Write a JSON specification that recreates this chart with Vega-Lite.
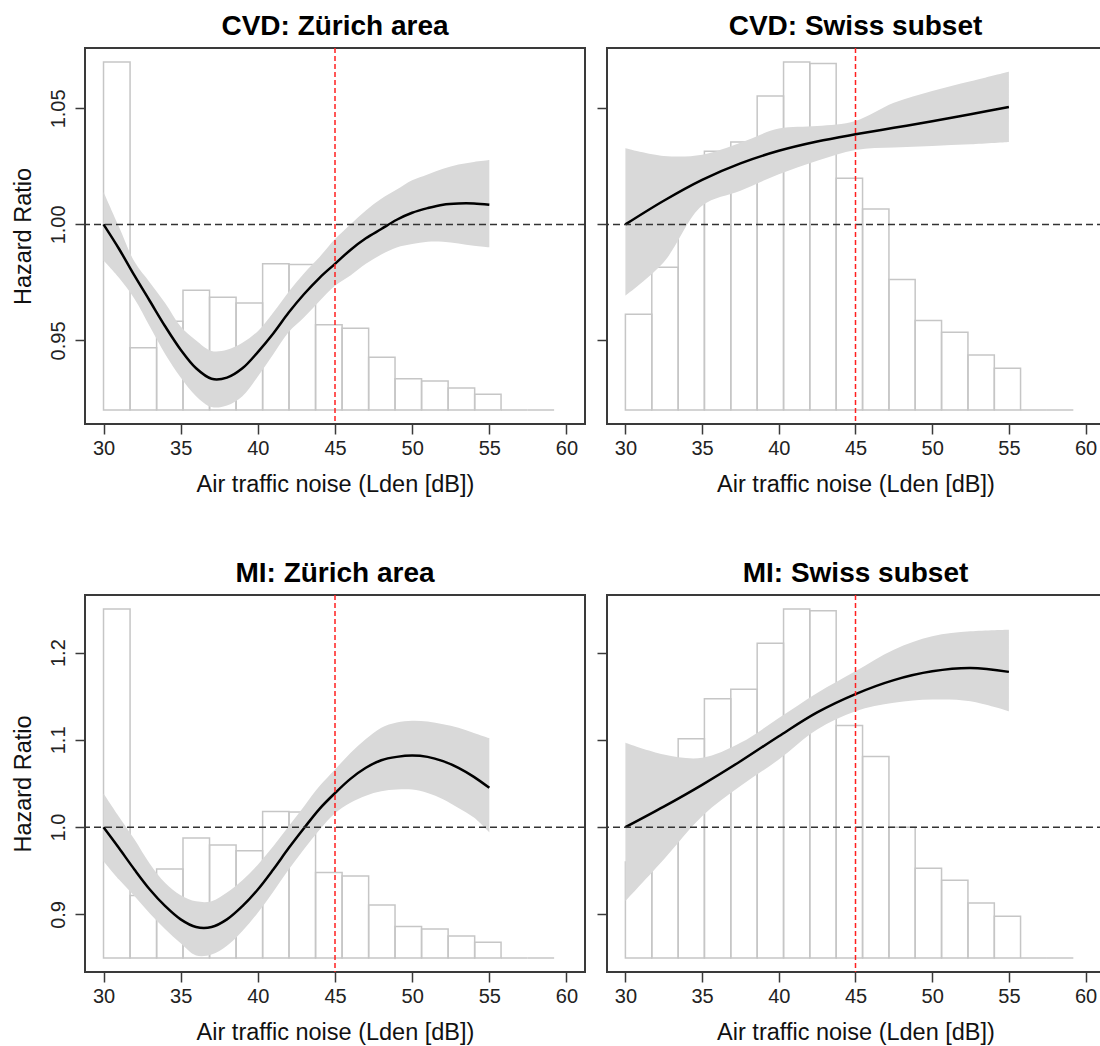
{
  "$schema": "https://vega.github.io/schema/vega-lite/v6.json",
  "padding": {"left": 10, "top": 12, "right": 0, "bottom": 0},
  "background": "white",
  "spacing": 62,
  "config": {
    "font": "Liberation Sans",
    "view": {"stroke": "#3a3a3a", "strokeWidth": 2},
    "axis": {"grid": false, "domain": false, "tickColor": "#3a3a3a", "tickWidth": 1.5, "tickSize": 10, "labelFont": "Liberation Sans", "labelFontSize": 20, "labelColor": "#222", "titleFont": "Liberation Sans", "titleFontSize": 23.5, "titleFontWeight": "normal", "titleColor": "#111", "labelOverlap": false},
    "axisX": {"labelPadding": 4, "titlePadding": 14, "labelFlush": false},
    "axisY": {"labelAngle": 270, "labelAlign": "center", "labelBaseline": "bottom", "labelPadding": 7, "titlePadding": 13},
    "title": {"fontSize": 28, "fontWeight": "bold", "font": "Liberation Sans", "offset": 6, "color": "#000", "anchor": "middle"}
  },
  "datasets": {
    "hist": [
      {"panel": "tl", "from": 30, "to": 31.72, "top": 1.07, "base": 0.92},
      {"panel": "tl", "from": 31.72, "to": 33.44, "top": 0.9469, "base": 0.92},
      {"panel": "tl", "from": 33.44, "to": 35.15, "top": 0.9583, "base": 0.92},
      {"panel": "tl", "from": 35.15, "to": 36.87, "top": 0.9716, "base": 0.92},
      {"panel": "tl", "from": 36.87, "to": 38.59, "top": 0.9686, "base": 0.92},
      {"panel": "tl", "from": 38.59, "to": 40.31, "top": 0.9661, "base": 0.92},
      {"panel": "tl", "from": 40.31, "to": 42.02, "top": 0.983, "base": 0.92},
      {"panel": "tl", "from": 42.02, "to": 43.74, "top": 0.9827, "base": 0.92},
      {"panel": "tl", "from": 43.74, "to": 45.46, "top": 0.9568, "base": 0.92},
      {"panel": "tl", "from": 45.46, "to": 47.18, "top": 0.9553, "base": 0.92},
      {"panel": "tl", "from": 47.18, "to": 48.89, "top": 0.9428, "base": 0.92},
      {"panel": "tl", "from": 48.89, "to": 50.61, "top": 0.9335, "base": 0.92},
      {"panel": "tl", "from": 50.61, "to": 52.33, "top": 0.9325, "base": 0.92},
      {"panel": "tl", "from": 52.33, "to": 54.05, "top": 0.9295, "base": 0.92},
      {"panel": "tl", "from": 54.05, "to": 55.76, "top": 0.9268, "base": 0.92},
      {"panel": "tl", "from": 55.76, "to": 57.48, "top": 0.92, "base": 0.92},
      {"panel": "tl", "from": 57.48, "to": 59.2, "top": 0.92, "base": 0.92},
      {"panel": "tr", "from": 30, "to": 31.72, "top": 0.9613, "base": 0.92},
      {"panel": "tr", "from": 31.72, "to": 33.44, "top": 0.9815, "base": 0.92},
      {"panel": "tr", "from": 33.44, "to": 35.15, "top": 1.0142, "base": 0.92},
      {"panel": "tr", "from": 35.15, "to": 36.87, "top": 1.0315, "base": 0.92},
      {"panel": "tr", "from": 36.87, "to": 38.59, "top": 1.0355, "base": 0.92},
      {"panel": "tr", "from": 38.59, "to": 40.31, "top": 1.0553, "base": 0.92},
      {"panel": "tr", "from": 40.31, "to": 42.02, "top": 1.07, "base": 0.92},
      {"panel": "tr", "from": 42.02, "to": 43.74, "top": 1.0693, "base": 0.92},
      {"panel": "tr", "from": 43.74, "to": 45.46, "top": 1.0199, "base": 0.92},
      {"panel": "tr", "from": 45.46, "to": 47.18, "top": 1.0066, "base": 0.92},
      {"panel": "tr", "from": 47.18, "to": 48.89, "top": 0.9763, "base": 0.92},
      {"panel": "tr", "from": 48.89, "to": 50.61, "top": 0.9586, "base": 0.92},
      {"panel": "tr", "from": 50.61, "to": 52.33, "top": 0.9535, "base": 0.92},
      {"panel": "tr", "from": 52.33, "to": 54.05, "top": 0.9437, "base": 0.92},
      {"panel": "tr", "from": 54.05, "to": 55.76, "top": 0.938, "base": 0.92},
      {"panel": "tr", "from": 55.76, "to": 57.48, "top": 0.92, "base": 0.92},
      {"panel": "tr", "from": 57.48, "to": 59.2, "top": 0.92, "base": 0.92},
      {"panel": "bl", "from": 30, "to": 31.72, "top": 1.25, "base": 0.85},
      {"panel": "bl", "from": 31.72, "to": 33.44, "top": 0.9216, "base": 0.85},
      {"panel": "bl", "from": 33.44, "to": 35.15, "top": 0.952, "base": 0.85},
      {"panel": "bl", "from": 35.15, "to": 36.87, "top": 0.9876, "base": 0.85},
      {"panel": "bl", "from": 36.87, "to": 38.59, "top": 0.9796, "base": 0.85},
      {"panel": "bl", "from": 38.59, "to": 40.31, "top": 0.9728, "base": 0.85},
      {"panel": "bl", "from": 40.31, "to": 42.02, "top": 1.018, "base": 0.85},
      {"panel": "bl", "from": 42.02, "to": 43.74, "top": 1.0172, "base": 0.85},
      {"panel": "bl", "from": 43.74, "to": 45.46, "top": 0.948, "base": 0.85},
      {"panel": "bl", "from": 45.46, "to": 47.18, "top": 0.944, "base": 0.85},
      {"panel": "bl", "from": 47.18, "to": 48.89, "top": 0.9108, "base": 0.85},
      {"panel": "bl", "from": 48.89, "to": 50.61, "top": 0.886, "base": 0.85},
      {"panel": "bl", "from": 50.61, "to": 52.33, "top": 0.8832, "base": 0.85},
      {"panel": "bl", "from": 52.33, "to": 54.05, "top": 0.8752, "base": 0.85},
      {"panel": "bl", "from": 54.05, "to": 55.76, "top": 0.868, "base": 0.85},
      {"panel": "bl", "from": 55.76, "to": 57.48, "top": 0.85, "base": 0.85},
      {"panel": "bl", "from": 57.48, "to": 59.2, "top": 0.85, "base": 0.85},
      {"panel": "br", "from": 30, "to": 31.72, "top": 0.96, "base": 0.85},
      {"panel": "br", "from": 31.72, "to": 33.44, "top": 1.014, "base": 0.85},
      {"panel": "br", "from": 33.44, "to": 35.15, "top": 1.1012, "base": 0.85},
      {"panel": "br", "from": 35.15, "to": 36.87, "top": 1.1472, "base": 0.85},
      {"panel": "br", "from": 36.87, "to": 38.59, "top": 1.158, "base": 0.85},
      {"panel": "br", "from": 38.59, "to": 40.31, "top": 1.2108, "base": 0.85},
      {"panel": "br", "from": 40.31, "to": 42.02, "top": 1.25, "base": 0.85},
      {"panel": "br", "from": 42.02, "to": 43.74, "top": 1.248, "base": 0.85},
      {"panel": "br", "from": 43.74, "to": 45.46, "top": 1.1164, "base": 0.85},
      {"panel": "br", "from": 45.46, "to": 47.18, "top": 1.0808, "base": 0.85},
      {"panel": "br", "from": 47.18, "to": 48.89, "top": 1.0, "base": 0.85},
      {"panel": "br", "from": 48.89, "to": 50.61, "top": 0.9528, "base": 0.85},
      {"panel": "br", "from": 50.61, "to": 52.33, "top": 0.9392, "base": 0.85},
      {"panel": "br", "from": 52.33, "to": 54.05, "top": 0.9132, "base": 0.85},
      {"panel": "br", "from": 54.05, "to": 55.76, "top": 0.898, "base": 0.85},
      {"panel": "br", "from": 55.76, "to": 57.48, "top": 0.85, "base": 0.85},
      {"panel": "br", "from": 57.48, "to": 59.2, "top": 0.85, "base": 0.85}
    ],
    "fit": [
      {"panel": "tl", "x": 30, "hr": 1.0, "lo": 0.9844, "hi": 1.014},
      {"panel": "tl", "x": 31, "hr": 0.9895, "lo": 0.977, "hi": 0.999},
      {"panel": "tl", "x": 32, "hr": 0.978, "lo": 0.968, "hi": 0.984},
      {"panel": "tl", "x": 33, "hr": 0.967, "lo": 0.956, "hi": 0.975},
      {"panel": "tl", "x": 34, "hr": 0.956, "lo": 0.944, "hi": 0.966},
      {"panel": "tl", "x": 35, "hr": 0.946, "lo": 0.934, "hi": 0.956},
      {"panel": "tl", "x": 36, "hr": 0.938, "lo": 0.926, "hi": 0.95},
      {"panel": "tl", "x": 37, "hr": 0.9335, "lo": 0.9213, "hi": 0.9455},
      {"panel": "tl", "x": 38, "hr": 0.934, "lo": 0.922, "hi": 0.946},
      {"panel": "tl", "x": 39, "hr": 0.938, "lo": 0.926, "hi": 0.949},
      {"panel": "tl", "x": 40, "hr": 0.945, "lo": 0.9345, "hi": 0.954},
      {"panel": "tl", "x": 41, "hr": 0.953, "lo": 0.944, "hi": 0.962},
      {"panel": "tl", "x": 42, "hr": 0.962, "lo": 0.9536, "hi": 0.971},
      {"panel": "tl", "x": 43, "hr": 0.97, "lo": 0.96, "hi": 0.979},
      {"panel": "tl", "x": 44, "hr": 0.977, "lo": 0.967, "hi": 0.986},
      {"panel": "tl", "x": 45, "hr": 0.983, "lo": 0.9736, "hi": 0.9937},
      {"panel": "tl", "x": 46, "hr": 0.989, "lo": 0.978, "hi": 1.0},
      {"panel": "tl", "x": 47, "hr": 0.994, "lo": 0.983, "hi": 1.006},
      {"panel": "tl", "x": 48, "hr": 0.998, "lo": 0.987, "hi": 1.011},
      {"panel": "tl", "x": 49, "hr": 1.002, "lo": 0.99, "hi": 1.015},
      {"panel": "tl", "x": 50, "hr": 1.005, "lo": 0.9915, "hi": 1.019},
      {"panel": "tl", "x": 51, "hr": 1.007, "lo": 0.9925, "hi": 1.0215},
      {"panel": "tl", "x": 52, "hr": 1.0085, "lo": 0.9925, "hi": 1.024},
      {"panel": "tl", "x": 53, "hr": 1.009, "lo": 0.9918, "hi": 1.0258},
      {"panel": "tl", "x": 54, "hr": 1.009, "lo": 0.9908, "hi": 1.0269},
      {"panel": "tl", "x": 55, "hr": 1.0085, "lo": 0.9901, "hi": 1.0277},
      {"panel": "tr", "x": 30, "hr": 1.0, "lo": 0.9693, "hi": 1.0328},
      {"panel": "tr", "x": 32.5, "hr": 1.0102, "lo": 0.9837, "hi": 1.0295},
      {"panel": "tr", "x": 35, "hr": 1.0192, "lo": 1.008, "hi": 1.03},
      {"panel": "tr", "x": 37.5, "hr": 1.0263, "lo": 1.0145, "hi": 1.0352},
      {"panel": "tr", "x": 40, "hr": 1.0317, "lo": 1.0216, "hi": 1.0413},
      {"panel": "tr", "x": 42.5, "hr": 1.0357, "lo": 1.0274, "hi": 1.0424},
      {"panel": "tr", "x": 45, "hr": 1.0388, "lo": 1.0321, "hi": 1.0446},
      {"panel": "tr", "x": 47.5, "hr": 1.0416, "lo": 1.0331, "hi": 1.0524},
      {"panel": "tr", "x": 50, "hr": 1.0444, "lo": 1.0338, "hi": 1.0575},
      {"panel": "tr", "x": 52.5, "hr": 1.0475, "lo": 1.0345, "hi": 1.0617},
      {"panel": "tr", "x": 55, "hr": 1.0506, "lo": 1.0355, "hi": 1.0658},
      {"panel": "bl", "x": 30, "hr": 1.0, "lo": 0.961, "hi": 1.0385},
      {"panel": "bl", "x": 31, "hr": 0.976, "lo": 0.94, "hi": 1.012},
      {"panel": "bl", "x": 32, "hr": 0.9515, "lo": 0.921, "hi": 0.986},
      {"panel": "bl", "x": 33, "hr": 0.9286, "lo": 0.901, "hi": 0.958},
      {"panel": "bl", "x": 34, "hr": 0.9095, "lo": 0.883, "hi": 0.936},
      {"panel": "bl", "x": 35, "hr": 0.8943, "lo": 0.867, "hi": 0.922},
      {"panel": "bl", "x": 36, "hr": 0.8855, "lo": 0.853, "hi": 0.915},
      {"panel": "bl", "x": 37, "hr": 0.8855, "lo": 0.854, "hi": 0.915},
      {"panel": "bl", "x": 38, "hr": 0.8943, "lo": 0.864, "hi": 0.925},
      {"panel": "bl", "x": 39, "hr": 0.9095, "lo": 0.881, "hi": 0.939},
      {"panel": "bl", "x": 40, "hr": 0.9286, "lo": 0.902, "hi": 0.957},
      {"panel": "bl", "x": 41, "hr": 0.9515, "lo": 0.926, "hi": 0.978},
      {"panel": "bl", "x": 42, "hr": 0.976, "lo": 0.9515, "hi": 1.001},
      {"panel": "bl", "x": 43, "hr": 0.999, "lo": 0.975, "hi": 1.024},
      {"panel": "bl", "x": 44, "hr": 1.021, "lo": 0.997, "hi": 1.047},
      {"panel": "bl", "x": 45, "hr": 1.039, "lo": 1.016, "hi": 1.066},
      {"panel": "bl", "x": 46, "hr": 1.0553, "lo": 1.028, "hi": 1.085},
      {"panel": "bl", "x": 47, "hr": 1.068, "lo": 1.036, "hi": 1.101},
      {"panel": "bl", "x": 48, "hr": 1.0767, "lo": 1.041, "hi": 1.114},
      {"panel": "bl", "x": 49, "hr": 1.0805, "lo": 1.043, "hi": 1.12},
      {"panel": "bl", "x": 50, "hr": 1.082, "lo": 1.043, "hi": 1.122},
      {"panel": "bl", "x": 51, "hr": 1.0805, "lo": 1.039, "hi": 1.121},
      {"panel": "bl", "x": 52, "hr": 1.0756, "lo": 1.032, "hi": 1.118},
      {"panel": "bl", "x": 53, "hr": 1.068, "lo": 1.022, "hi": 1.114},
      {"panel": "bl", "x": 54, "hr": 1.0576, "lo": 1.011, "hi": 1.108},
      {"panel": "bl", "x": 55, "hr": 1.045, "lo": 0.994, "hi": 1.102},
      {"panel": "br", "x": 30, "hr": 1.0, "lo": 0.9153, "hi": 1.0966},
      {"panel": "br", "x": 32.5, "hr": 1.0235, "lo": 0.963, "hi": 1.0832},
      {"panel": "br", "x": 35, "hr": 1.0485, "lo": 1.0126, "hi": 1.0794},
      {"panel": "br", "x": 37.5, "hr": 1.0755, "lo": 1.047, "hi": 1.0966},
      {"panel": "br", "x": 40, "hr": 1.1042, "lo": 1.0775, "hi": 1.125},
      {"panel": "br", "x": 42.5, "hr": 1.1315, "lo": 1.1118, "hi": 1.1538},
      {"panel": "br", "x": 45, "hr": 1.1525, "lo": 1.1328, "hi": 1.1786},
      {"panel": "br", "x": 47.5, "hr": 1.1685, "lo": 1.1424, "hi": 1.2034},
      {"panel": "br", "x": 50, "hr": 1.1786, "lo": 1.1462, "hi": 1.2187},
      {"panel": "br", "x": 52.5, "hr": 1.1824, "lo": 1.1443, "hi": 1.2244},
      {"panel": "br", "x": 55, "hr": 1.1779, "lo": 1.1328, "hi": 1.2263}
    ]
  },
  "vconcat": [
    {
      "spacing": 8,
      "hconcat": [
        {
          "width": 500, "height": 376,
          "title": "CVD: Zürich area",
          "layer": [
            {"data": {"name": "hist"}, "transform": [{"filter": "datum.panel === 'tl'"}],
             "mark": {"type": "rect", "fill": "white", "fillOpacity": 0, "stroke": "#c6c6c6", "strokeWidth": 1.5},
             "encoding": {
               "x": {"field": "from", "type": "quantitative", "scale": {"domain": [28.8, 61.2], "nice": false, "zero": false}, "axis": {"values": [30, 35, 40, 45, 50, 55, 60], "title": "Air traffic noise (Lden [dB])"}},
               "x2": {"field": "to"},
               "y": {"field": "top", "type": "quantitative", "scale": {"domain": [0.914, 1.076], "nice": false, "zero": false}, "axis": {"values": [0.95, 1.0, 1.05], "format": ".2f", "title": "Hazard Ratio"}},
               "y2": {"field": "base"}}},
            {"data": {"name": "fit"}, "transform": [{"filter": "datum.panel === 'tl'"}],
             "mark": {"type": "area", "color": "#d9d9d9", "interpolate": "catmull-rom"},
             "encoding": {
               "x": {"field": "x", "type": "quantitative", "scale": {"domain": [28.8, 61.2], "nice": false, "zero": false}},
               "y": {"field": "lo", "type": "quantitative", "scale": {"domain": [0.914, 1.076], "nice": false, "zero": false}},
               "y2": {"field": "hi"}}},
            {"data": {"name": "fit"}, "transform": [{"filter": "datum.panel === 'tl'"}],
             "mark": {"type": "line", "color": "#000", "strokeWidth": 2.5, "interpolate": "catmull-rom"},
             "encoding": {
               "x": {"field": "x", "type": "quantitative", "scale": {"domain": [28.8, 61.2], "nice": false, "zero": false}},
               "y": {"field": "hr", "type": "quantitative", "scale": {"domain": [0.914, 1.076], "nice": false, "zero": false}}}},
            {"data": {"values": [{}]},
             "mark": {"type": "rule", "color": "#333", "strokeWidth": 1.5, "strokeDash": [7, 4]},
             "encoding": {"y": {"datum": 1, "type": "quantitative", "scale": {"domain": [0.914, 1.076], "nice": false, "zero": false}}}},
            {"data": {"values": [{}]},
             "mark": {"type": "rule", "color": "#ff2020", "strokeWidth": 1.5, "strokeDash": [5, 3]},
             "encoding": {"x": {"datum": 45, "type": "quantitative", "scale": {"domain": [28.8, 61.2], "nice": false, "zero": false}}}}
          ]
        },
        {
          "width": 497, "height": 376,
          "title": "CVD: Swiss subset",
          "layer": [
            {"data": {"name": "hist"}, "transform": [{"filter": "datum.panel === 'tr'"}],
             "mark": {"type": "rect", "fill": "white", "fillOpacity": 0, "stroke": "#c6c6c6", "strokeWidth": 1.5},
             "encoding": {
               "x": {"field": "from", "type": "quantitative", "scale": {"domain": [28.8, 61.2], "nice": false, "zero": false}, "axis": {"values": [30, 35, 40, 45, 50, 55, 60], "title": "Air traffic noise (Lden [dB])"}},
               "x2": {"field": "to"},
               "y": {"field": "top", "type": "quantitative", "scale": {"domain": [0.914, 1.076], "nice": false, "zero": false}, "axis": {"values": [0.95, 1.0, 1.05], "labels": false, "title": null}},
               "y2": {"field": "base"}}},
            {"data": {"name": "fit"}, "transform": [{"filter": "datum.panel === 'tr'"}],
             "mark": {"type": "area", "color": "#d9d9d9", "interpolate": "catmull-rom"},
             "encoding": {
               "x": {"field": "x", "type": "quantitative", "scale": {"domain": [28.8, 61.2], "nice": false, "zero": false}},
               "y": {"field": "lo", "type": "quantitative", "scale": {"domain": [0.914, 1.076], "nice": false, "zero": false}},
               "y2": {"field": "hi"}}},
            {"data": {"name": "fit"}, "transform": [{"filter": "datum.panel === 'tr'"}],
             "mark": {"type": "line", "color": "#000", "strokeWidth": 2.5, "interpolate": "catmull-rom"},
             "encoding": {
               "x": {"field": "x", "type": "quantitative", "scale": {"domain": [28.8, 61.2], "nice": false, "zero": false}},
               "y": {"field": "hr", "type": "quantitative", "scale": {"domain": [0.914, 1.076], "nice": false, "zero": false}}}},
            {"data": {"values": [{}]},
             "mark": {"type": "rule", "color": "#333", "strokeWidth": 1.5, "strokeDash": [7, 4]},
             "encoding": {"y": {"datum": 1, "type": "quantitative", "scale": {"domain": [0.914, 1.076], "nice": false, "zero": false}}}},
            {"data": {"values": [{}]},
             "mark": {"type": "rule", "color": "#ff2020", "strokeWidth": 1.5, "strokeDash": [5, 3]},
             "encoding": {"x": {"datum": 45, "type": "quantitative", "scale": {"domain": [28.8, 61.2], "nice": false, "zero": false}}}}
          ]
        }
      ]
    },
    {
      "spacing": 8,
      "hconcat": [
        {
          "width": 500, "height": 377,
          "title": "MI: Zürich area",
          "layer": [
            {"data": {"name": "hist"}, "transform": [{"filter": "datum.panel === 'bl'"}],
             "mark": {"type": "rect", "fill": "white", "fillOpacity": 0, "stroke": "#c6c6c6", "strokeWidth": 1.5},
             "encoding": {
               "x": {"field": "from", "type": "quantitative", "scale": {"domain": [28.8, 61.2], "nice": false, "zero": false}, "axis": {"values": [30, 35, 40, 45, 50, 55, 60], "title": "Air traffic noise (Lden [dB])"}},
               "x2": {"field": "to"},
               "y": {"field": "top", "type": "quantitative", "scale": {"domain": [0.834, 1.266], "nice": false, "zero": false}, "axis": {"values": [0.9, 1.0, 1.1, 1.2], "format": ".1f", "title": "Hazard Ratio"}},
               "y2": {"field": "base"}}},
            {"data": {"name": "fit"}, "transform": [{"filter": "datum.panel === 'bl'"}],
             "mark": {"type": "area", "color": "#d9d9d9", "interpolate": "catmull-rom"},
             "encoding": {
               "x": {"field": "x", "type": "quantitative", "scale": {"domain": [28.8, 61.2], "nice": false, "zero": false}},
               "y": {"field": "lo", "type": "quantitative", "scale": {"domain": [0.834, 1.266], "nice": false, "zero": false}},
               "y2": {"field": "hi"}}},
            {"data": {"name": "fit"}, "transform": [{"filter": "datum.panel === 'bl'"}],
             "mark": {"type": "line", "color": "#000", "strokeWidth": 2.5, "interpolate": "catmull-rom"},
             "encoding": {
               "x": {"field": "x", "type": "quantitative", "scale": {"domain": [28.8, 61.2], "nice": false, "zero": false}},
               "y": {"field": "hr", "type": "quantitative", "scale": {"domain": [0.834, 1.266], "nice": false, "zero": false}}}},
            {"data": {"values": [{}]},
             "mark": {"type": "rule", "color": "#333", "strokeWidth": 1.5, "strokeDash": [7, 4]},
             "encoding": {"y": {"datum": 1, "type": "quantitative", "scale": {"domain": [0.834, 1.266], "nice": false, "zero": false}}}},
            {"data": {"values": [{}]},
             "mark": {"type": "rule", "color": "#ff2020", "strokeWidth": 1.5, "strokeDash": [5, 3]},
             "encoding": {"x": {"datum": 45, "type": "quantitative", "scale": {"domain": [28.8, 61.2], "nice": false, "zero": false}}}}
          ]
        },
        {
          "width": 497, "height": 377,
          "title": "MI: Swiss subset",
          "layer": [
            {"data": {"name": "hist"}, "transform": [{"filter": "datum.panel === 'br'"}],
             "mark": {"type": "rect", "fill": "white", "fillOpacity": 0, "stroke": "#c6c6c6", "strokeWidth": 1.5},
             "encoding": {
               "x": {"field": "from", "type": "quantitative", "scale": {"domain": [28.8, 61.2], "nice": false, "zero": false}, "axis": {"values": [30, 35, 40, 45, 50, 55, 60], "title": "Air traffic noise (Lden [dB])"}},
               "x2": {"field": "to"},
               "y": {"field": "top", "type": "quantitative", "scale": {"domain": [0.834, 1.266], "nice": false, "zero": false}, "axis": {"values": [0.9, 1.0, 1.1, 1.2], "labels": false, "title": null}},
               "y2": {"field": "base"}}},
            {"data": {"name": "fit"}, "transform": [{"filter": "datum.panel === 'br'"}],
             "mark": {"type": "area", "color": "#d9d9d9", "interpolate": "catmull-rom"},
             "encoding": {
               "x": {"field": "x", "type": "quantitative", "scale": {"domain": [28.8, 61.2], "nice": false, "zero": false}},
               "y": {"field": "lo", "type": "quantitative", "scale": {"domain": [0.834, 1.266], "nice": false, "zero": false}},
               "y2": {"field": "hi"}}},
            {"data": {"name": "fit"}, "transform": [{"filter": "datum.panel === 'br'"}],
             "mark": {"type": "line", "color": "#000", "strokeWidth": 2.5, "interpolate": "catmull-rom"},
             "encoding": {
               "x": {"field": "x", "type": "quantitative", "scale": {"domain": [28.8, 61.2], "nice": false, "zero": false}},
               "y": {"field": "hr", "type": "quantitative", "scale": {"domain": [0.834, 1.266], "nice": false, "zero": false}}}},
            {"data": {"values": [{}]},
             "mark": {"type": "rule", "color": "#333", "strokeWidth": 1.5, "strokeDash": [7, 4]},
             "encoding": {"y": {"datum": 1, "type": "quantitative", "scale": {"domain": [0.834, 1.266], "nice": false, "zero": false}}}},
            {"data": {"values": [{}]},
             "mark": {"type": "rule", "color": "#ff2020", "strokeWidth": 1.5, "strokeDash": [5, 3]},
             "encoding": {"x": {"datum": 45, "type": "quantitative", "scale": {"domain": [28.8, 61.2], "nice": false, "zero": false}}}}
          ]
        }
      ]
    }
  ]
}
